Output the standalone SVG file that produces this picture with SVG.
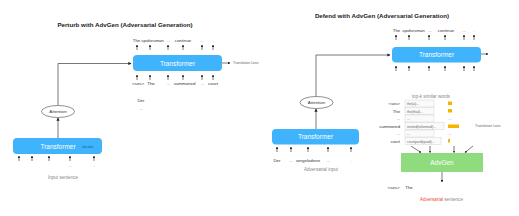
<svg xmlns="http://www.w3.org/2000/svg" width="519" height="216" viewBox="0 0 519 216">
<defs>
<marker id="ah" viewBox="0 0 6 6" refX="5" refY="3" markerWidth="4" markerHeight="4" orient="auto"><path d="M0,0 L6,3 L0,6 z" fill="#222"/></marker>
<style>
text{font-family:"Liberation Sans",Arial,sans-serif}
.title{font-size:6.2px;font-weight:bold;fill:#222}
.tf{fill:#3fb3fb}
.tl{font-size:6.5px;fill:#fff;text-anchor:middle}
.w{font-size:4.4px;fill:#333;text-anchor:middle}
.rl{font-size:4.2px;fill:#333;text-anchor:end}
.g{font-size:4.6px;fill:#888;text-anchor:middle}
.s{font-size:3.5px;fill:#666}
.a{stroke:#222;stroke-width:0.6;fill:none;marker-end:url(#ah)}
.c{stroke:#555;stroke-width:0.8;fill:none}
.row{fill:#fafafa;stroke:#ccc;stroke-width:0.4}
.ob{fill:#f6b400}
</style>
</defs>

<text class="title" x="125" y="27" text-anchor="middle">Perturb with AdvGen (Adversarial Generation)</text>
<text class="title" x="382" y="18" text-anchor="middle">Defend with AdvGen (Adversarial Generation)</text>

<g id="connectors">
<path class="c" d="M58,105 V63.5 H131" marker-end="url(#ah)"/>
<path class="c" d="M58,138 V118" marker-end="url(#ah)"/>
<line class="a" x1="222" y1="63" x2="230" y2="63"/>
<line class="a" x1="137" y1="50" x2="137" y2="45"/>
<line class="a" x1="150" y1="50" x2="150" y2="45"/>
<line class="a" x1="168" y1="50" x2="168" y2="45"/>
<line class="a" x1="183" y1="50" x2="183" y2="45"/>
<line class="a" x1="202" y1="50" x2="202" y2="45"/>
<line class="a" x1="213" y1="50" x2="213" y2="45"/>
<line class="a" x1="137" y1="80" x2="137" y2="75"/>
<line class="a" x1="150" y1="80" x2="150" y2="75"/>
<line class="a" x1="168" y1="80" x2="168" y2="75"/>
<line class="a" x1="183" y1="80" x2="183" y2="75"/>
<line class="a" x1="202" y1="80" x2="202" y2="75"/>
<line class="a" x1="213" y1="80" x2="213" y2="75"/>
<line class="a" x1="19" y1="161" x2="19" y2="156"/>
<line class="a" x1="32" y1="161" x2="32" y2="156"/>
<line class="a" x1="49" y1="161" x2="49" y2="156"/>
<line class="a" x1="70" y1="161" x2="70" y2="156"/>
<line class="a" x1="94" y1="161" x2="94" y2="156"/>
<path class="c" d="M316,97 V55 H390" marker-end="url(#ah)"/>
<path class="c" d="M316,129 V109" marker-end="url(#ah)"/>
<line class="a" x1="481" y1="54" x2="488" y2="54"/>
<line class="a" x1="396" y1="40" x2="396" y2="35"/>
<line class="a" x1="409" y1="40" x2="409" y2="35"/>
<line class="a" x1="429" y1="40" x2="429" y2="35"/>
<line class="a" x1="445" y1="40" x2="445" y2="35"/>
<line class="a" x1="464" y1="40" x2="464" y2="35"/>
<line class="a" x1="474" y1="40" x2="474" y2="35"/>
<line class="a" x1="396" y1="71" x2="396" y2="66"/>
<line class="a" x1="409" y1="71" x2="409" y2="66"/>
<line class="a" x1="429" y1="71" x2="429" y2="66"/>
<line class="a" x1="445" y1="71" x2="445" y2="66"/>
<line class="a" x1="464" y1="71" x2="464" y2="66"/>
<line class="a" x1="474" y1="71" x2="474" y2="66"/>
<line class="a" x1="277" y1="152" x2="277" y2="147"/>
<line class="a" x1="291" y1="152" x2="291" y2="147"/>
<line class="a" x1="308" y1="152" x2="308" y2="147"/>
<line class="a" x1="328" y1="152" x2="328" y2="147"/>
<line class="a" x1="351" y1="152" x2="351" y2="147"/>
<line class="a" x1="411" y1="146" x2="421" y2="152.5"/>
<line class="a" x1="430" y1="146" x2="430" y2="152.5"/>
<line class="a" x1="454" y1="146" x2="454" y2="152.5"/>
<line class="a" x1="473" y1="146" x2="465" y2="152.5"/>
<line class="a" x1="442" y1="172" x2="442" y2="182"/>
</g>

<g id="transformer-dec-left">
<rect class="tf" x="133" y="55" width="89" height="16" rx="4"/>
<text class="tl" x="177.5" y="65.5">Transformer</text>
</g>
<g id="dec-left-outputs">
<text class="w" x="136.5" y="42">The</text>
<text class="w" x="152.5" y="42">spokesman</text>
<text class="w" x="168.5" y="42">...</text>
<text class="w" x="183" y="42">continue</text>
<text class="w" x="202" y="42">...</text>
<text class="w" x="213" y="42">.</text>
<text class="s" x="233" y="64.3" font-size="3.9">Translation Loss</text>
</g>
<g id="dec-left-inputs">
<text class="w" x="138" y="85">&lt;sos&gt;</text>
<text class="w" x="151" y="85">The</text>
<text class="w" x="168.5" y="85">...</text>
<text class="w" x="184.5" y="85">summoned</text>
<text class="w" x="202.5" y="85">...</text>
<text class="w" x="213" y="85">court</text>
<text class="w" x="141" y="102">Der</text>
<text class="w" x="141" y="110">...</text>
</g>
<g id="attention-left">
<ellipse cx="58" cy="111.5" rx="16.5" ry="6" fill="#fff" stroke="#444" stroke-width="0.6"/>
<text class="w" x="58" y="113" font-size="4.2">Attention</text>
</g>
<g id="transformer-enc-left">
<rect class="tf" x="13" y="138" width="89" height="16" rx="4"/>
<text class="tl" x="58" y="148.5">Transformer</text>
<text x="88" y="147.5" font-size="3.4" fill="#1d5b96" text-anchor="middle">w/o dec</text>
</g>
<g id="enc-left-inputs">
<text class="w" x="70" y="167">...</text>
<text class="w" x="94" y="167">.</text>
<text class="g" x="63" y="178.5">Input sentence</text>
</g>

<g id="transformer-dec-right">
<rect class="tf" x="392" y="47" width="89" height="15.5" rx="4"/>
<text class="tl" x="436.5" y="57">Transformer</text>
</g>
<g id="dec-right-outputs">
<text class="w" x="396.5" y="32">The</text>
<text class="w" x="413.5" y="32">spokesman</text>
<text class="w" x="430" y="32">...</text>
<text class="w" x="446" y="32">continue</text>
<text class="w" x="464" y="32">...</text>
<text class="w" x="474" y="32">.</text>
</g>
<g id="attention-right">
<ellipse cx="316.5" cy="102.5" rx="16.5" ry="6" fill="#fff" stroke="#444" stroke-width="0.6"/>
<text class="w" x="316.5" y="104" font-size="4.2">Attention</text>
</g>
<g id="transformer-enc-right">
<rect class="tf" x="272" y="129" width="87" height="15.5" rx="4"/>
<text class="tl" x="315.5" y="139">Transformer</text>
</g>
<g id="enc-right-inputs">
<text class="w" x="277" y="162">Der</text>
<text class="w" x="291" y="162">...</text>
<text class="w" x="308" y="162">vorgeladene</text>
<text class="w" x="328" y="162">...</text>
<text class="w" x="351" y="162">.</text>
<text class="g" x="321" y="170.5">Adversarial input</text>
</g>
<g id="topk-words">
<text class="g" x="431" y="97.5">top-k similar words</text>
<rect class="row" x="405" y="100" width="29" height="7"/>
<rect class="row" x="405" y="107.5" width="29" height="7"/>
<rect class="row" x="405" y="115" width="29" height="7"/>
<rect class="row" x="405" y="122.5" width="39" height="7"/>
<rect class="row" x="405" y="130" width="29" height="7"/>
<rect class="row" x="405" y="137.5" width="36" height="7"/>
<text class="rl" x="400" y="105">&lt;sos&gt;</text>
<text class="rl" x="400" y="112.5">The</text>
<text class="rl" x="400" y="120">...</text>
<text class="rl" x="400" y="127.5">summoned</text>
<text class="rl" x="400" y="135">...</text>
<text class="rl" x="400" y="142.5">court</text>
<text class="s" x="407" y="105">the(a)...</text>
<text class="s" x="407" y="112.5">the(that)...</text>
<text class="s" x="407" y="120">...</text>
<text class="s" x="407" y="127.5">invited(informed)...</text>
<text class="s" x="407" y="135">...</text>
<text class="s" x="407" y="142.5">courtyard(quad)...</text>
<rect class="ob" x="448" y="101.5" width="4" height="3.5"/>
<rect class="ob" x="448" y="109" width="4" height="3.5"/>
<text class="s" x="448.5" y="120">...</text>
<rect class="ob" x="448" y="124.5" width="11" height="3.5"/>
<text class="s" x="448.5" y="135">...</text>
<rect class="ob" x="448" y="139" width="2" height="3.5"/>
<text class="s" x="475" y="127" font-size="4">Translation Loss</text>
</g>
<g id="advgen">
<rect x="401" y="153" width="82" height="19" fill="#8fdb7e"/>
<text class="tl" x="442" y="165">AdvGen</text>
</g>
<g id="adv-output">
<text class="w" x="393.5" y="189">&lt;sos&gt;</text>
<text class="w" x="409" y="189">The</text>
<text class="g" x="441.5" y="200.5"><tspan fill="#f2463a">Adversarial</tspan> sentence</text>
</g>
</svg>
